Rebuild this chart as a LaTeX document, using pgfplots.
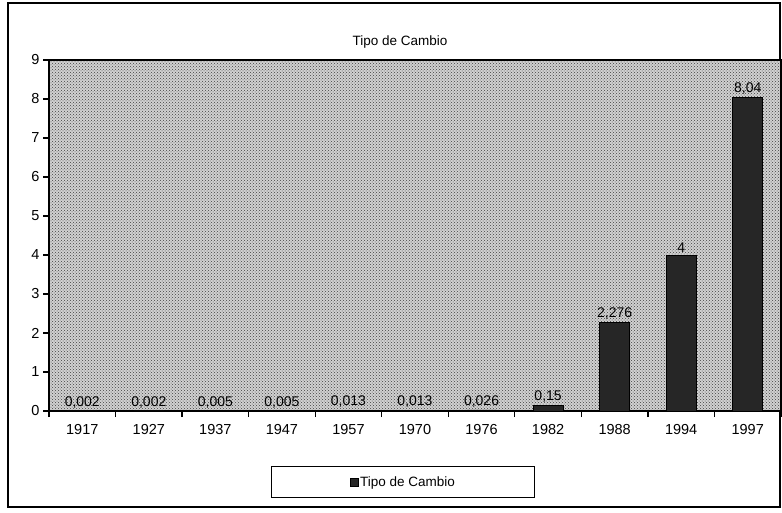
\documentclass[border=0pt]{standalone}
\usepackage{pgfplots}
\pgfplotsset{compat=1.18}
\usepackage{fontspec}
\setmainfont{Liberation Sans}
\usetikzlibrary{patterns}
\pgfplotstableread{
x y label
0 0.002 0,002
1 0.002 0,002
2 0.005 0,005
3 0.005 0,005
4 0.013 0,013
5 0.013 0,013
6 0.026 0,026
7 0.15 0,15
8 2.276 2,276
9 4 4
10 8.04 8,04
}\datatable
\begin{document}
\begin{tikzpicture}[x=1pt,y=1pt]
\path[use as bounding box] (0,0) rectangle (782,512);
\draw[line width=1.3pt] (8,5) rectangle (780,509);
\node[font=\fontsize{13.5}{15}\selectfont] at (400,470) {Tipo de Cambio};
\begin{axis}[
  at={(49pt,101pt)}, anchor=south west,
  scale only axis, width=732pt, height=351pt,
  xmin=-0.5, xmax=10.5, ymin=0, ymax=9,
  axis line style={line width=1.5pt},
  axis background/.style={fill=black!18, postaction={pattern=crosshatch dots, pattern color=black!75}},
  ytick={0,1,...,9},
  xtick={-0.5,0.5,...,10.5},
  xticklabels={},
  extra x ticks={0,1,...,10},
  extra x tick labels={1917,1927,1937,1947,1957,1970,1976,1982,1988,1994,1997},
  extra x tick style={tick style={draw=none}, tick label style={yshift=-4pt}},
  xtick pos=bottom, ytick pos=left,
  tick align=outside,
  major tick length=6pt,
  every tick/.style={line width=1.3pt, black},
  tick label style={font=\fontsize{14.5}{16}\selectfont},
  /pgf/number format/assume math mode=true,
  legend style={at={(0.484,-0.202)}, anchor=center, draw=black, line width=1pt,
    inner xsep=78pt, inner ysep=8pt, font=\fontsize{13.5}{15}\selectfont},
  legend image code/.code={\draw[fill=black!85, draw=black, line width=0.5pt] (0pt,-4pt) rectangle (8pt,4pt);},
]
\addplot[ybar, bar width=30pt, fill=black!85, draw=black, line width=0.8pt,
  nodes near coords, point meta=explicit symbolic,
  nodes near coords style={font=\fontsize{14}{15}\selectfont, anchor=south, inner sep=2.5pt}]
  table[x=x, y=y, meta=label]{\datatable};
\addlegendentry{Tipo de Cambio}
\end{axis}
\end{tikzpicture}
\end{document}
